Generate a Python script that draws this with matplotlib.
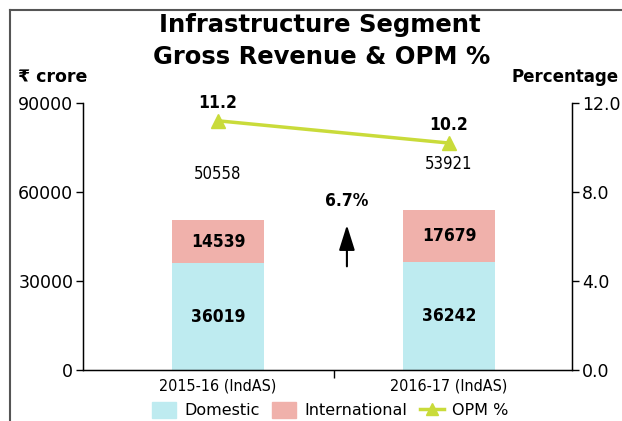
import matplotlib
matplotlib.use("Agg")
import matplotlib.pyplot as plt
from matplotlib.lines import Line2D
from matplotlib.patches import Patch

categories = ["2015-16 (IndAS)", "2016-17 (IndAS)"]
domestic = [36019, 36242]
international = [14539, 17679]
totals = [50558, 53921]
opm = [11.2, 10.2]
growth_label = "6.7%"

c_dom = "#BEEBF0"
c_int = "#F0B1AB"
c_opm = "#C9DB3A"

fig = plt.figure(figsize=(6.22, 4.21), dpi=100)
ax = fig.add_axes([83/622, 1-370/421, (572-83)/622, (370-103)/421])
x = list(range(len(categories)))
w = 0.40
ax.bar(x, domestic, width=w, color=c_dom, zorder=2)
ax.bar(x, international, width=w, bottom=domestic, color=c_int, zorder=2)

cond = dict(family="DejaVu Sans", stretch="condensed")
for i in x:
    ax.text(i, domestic[i]/2, f"{domestic[i]}", ha="center", va="center",
            fontsize=12.5, fontweight="bold", **cond)
    ax.text(i, domestic[i] + international[i]/2, f"{international[i]}", ha="center",
            va="center", fontsize=12.5, fontweight="bold", **cond)
    ax.annotate(f"{totals[i]}", (i, totals[i]), xytext=(0, 33), textcoords="offset points",
                ha="center", va="center", fontsize=12, **cond)

ax.set_xlim(-0.584, 1.532)
ax.set_ylim(0, 90000)
ax.set_yticks([0, 30000, 60000, 90000])
ax.set_yticklabels(["0", "30000", "60000", "90000"], fontsize=12.5)
ax.set_xticks([0.5])
ax.set_xticklabels([""])
ax.tick_params(axis="x", length=6, width=1)
ax.tick_params(axis="y", length=5, width=1, pad=2)
for i, c in enumerate(categories):
    ax.text(i, -3000, c, ha="center", va="top", fontsize=11.5, **cond)
ax.spines["top"].set_visible(False)
for s in ["left", "bottom", "right"]:
    ax.spines[s].set_linewidth(1.0)

# growth arrow
ax.annotate("", xy=(0.558, 49800), xytext=(0.558, 34000),
            arrowprops=dict(arrowstyle="-|>,head_length=0.7,head_width=0.22",
                            color="black", lw=1.5, mutation_scale=22))
ax.text(0.558, 56800, growth_label, ha="center", va="center", fontsize=12.5,
        fontweight="bold", **cond)

ax2 = ax.twinx()
ax2.set_ylim(0, 12)
ax2.set_yticks([0, 4, 8, 12])
ax2.set_yticklabels(["0.0", "4.0", "8.0", "12.0"], fontsize=12.5)
ax2.tick_params(axis="y", length=5, width=1, pad=2)
ax2.spines["top"].set_visible(False)
ax2.plot(x, opm, color=c_opm, lw=2.5, marker="^", markersize=10, zorder=3)
for i in x:
    ax2.annotate(f"{opm[i]}", (i, opm[i]), xytext=(0, 13), textcoords="offset points",
                 ha="center", va="center", fontsize=12.5, fontweight="bold", **cond)

fig.text(320/622, 1-25/421, "Infrastructure Segment", ha="center", va="center",
         fontsize=17.5, fontweight="bold")
fig.text(322/622, 1-57/421, "Gross Revenue & OPM %", ha="center", va="center",
         fontsize=17.5, fontweight="bold")
fig.text(18/622, 1-77/421, "\u20b9 crore", ha="left", va="center", fontsize=12.5, fontweight="bold")
fig.text(619/622, 1-77/421, "Percentage", ha="right", va="center", fontsize=12, fontweight="bold")

# frame
fig.add_artist(Line2D([10/622, 10/622], [0, 1-10/421], color="#555555", lw=1.5,
                      transform=fig.transFigure))
fig.add_artist(Line2D([10/622, 1], [1-10/421, 1-10/421], color="#555555", lw=1.5,
                      transform=fig.transFigure))

handles = [Patch(color=c_dom, label="Domestic"), Patch(color=c_int, label="International"),
           Line2D([], [], color=c_opm, lw=2.5, marker="^", markersize=9, label="OPM %")]
fig.legend(handles=handles, loc="center", bbox_to_anchor=(330/622, 1-410/421), ncol=3,
           frameon=False, fontsize=11.5, handlelength=1.5, handleheight=1.2,
           columnspacing=0.8, handletextpad=0.5, borderpad=0)

fig.savefig("out.png", dpi=100)
